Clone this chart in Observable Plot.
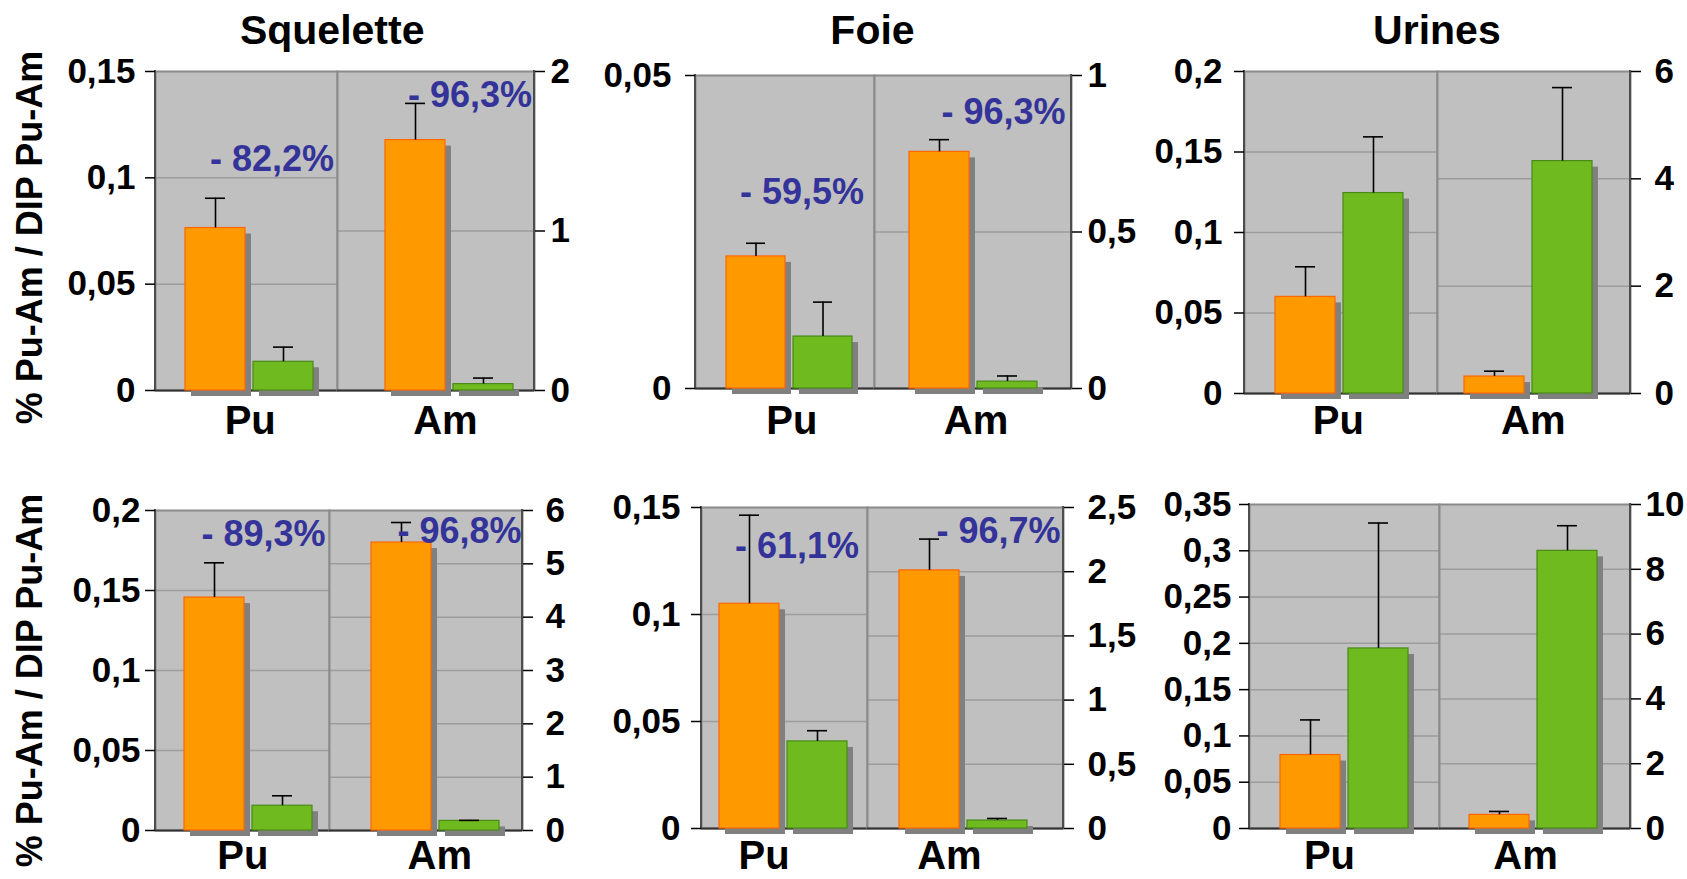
<!DOCTYPE html>
<html>
<head>
<meta charset="utf-8">
<script src="https://cdn.jsdelivr.net/npm/d3@7"></script>
<script src="https://cdn.jsdelivr.net/npm/@observablehq/plot@0.6"></script>
<style>
html, body { margin: 0; padding: 0; background: #ffffff; }
#chart { position: relative; width: 1687px; height: 879px; overflow: hidden; background: #ffffff; }
#chart svg { position: absolute; }
</style>
</head>
<body>
<div id="chart"></div>
<script>
// ---------------- DATA ----------------
const organs = ["Squelette", "Foie", "Urines"];
const elements = ["Pu", "Am"];
const yLabel = "% Pu-Am / DIP Pu-Am";
// panels in reading order (top row, then bottom row); each entry = [Pu, Am]
const orangeValues = [[0.0764, 1.57], [0.0211, 0.756], [0.060, 0.316], [0.1456, 5.40], [0.105, 2.01], [0.0794, 0.42]];
const orangeErrors = [[0.014, 0.23], [0.0021, 0.039], [0.0187, 0.10], [0.0217, 0.375], [0.0414, 0.244], [0.0379, 0.106]];
const greenValues = [[0.0135, 0.04], [0.0083, 0.022], [0.1245, 4.33], [0.0155, 0.18], [0.0407, 0.062], [0.1945, 8.57]];
const greenErrors = [[0.0069, 0.038], [0.0055, 0.018], [0.0349, 1.37], [0.0062, 0.01], [0.005, 0.016], [0.1355, 0.775]];
const percentLabels = [["- 82,2%", "- 96,3%"], ["- 59,5%", "- 96,3%"], [null, null], ["- 89,3%", "- 96,8%"], ["- 61,1%", "- 96,7%"], [null, null]];
const leftTicks = [
  [0, 0.05, 0.1, 0.15],
  [0, 0.05],
  [0, 0.05, 0.1, 0.15, 0.2],
  [0, 0.05, 0.1, 0.15, 0.2],
  [0, 0.05, 0.1, 0.15],
  [0, 0.05, 0.1, 0.15, 0.2, 0.25, 0.3, 0.35]
];
const rightTicks = [
  [0, 1, 2],
  [0, 0.5, 1],
  [0, 2, 4, 6],
  [0, 1, 2, 3, 4, 5, 6],
  [0, 0.5, 1, 1.5, 2, 2.5],
  [0, 2, 4, 6, 8, 10]
];

// ---------------- LAYOUT (pixels on the page) ----------------
const layout = [
  {L: 155, D: 337, R: 534, T: 71, B: 390, s: [30, 48], lx: [249.7, 444.9], pct: [[333.5, 170], [531.5, 106]], padL: 10, padR: 6},
  {L: 695, D: 874, R: 1071, T: 75, B: 388, s: [30.4, 35.3], lx: [791.4, 975.5], pct: [[863.6, 203], [1065, 123]], padL: 14, padR: 6},
  {L: 1244, D: 1437, R: 1630, T: 71, B: 393, s: [30.5, 26.6], lx: [1337.8, 1532.8], pct: [null, null], padL: 12, padR: 14},
  {L: 155, D: 329, R: 522, T: 510, B: 830, s: [29, 42], lx: [242.3, 439.3], pct: [[325, 545], [521, 542]], padL: 5, padR: 13},
  {L: 701, D: 867, R: 1063, T: 507, B: 828, s: [18.3, 31.6], lx: [763.6, 948.9], pct: [[858.6, 557], [1060, 542]], padL: 11, padR: 14},
  {L: 1249, D: 1439, R: 1630, T: 504, B: 828, s: [30.6, 30.2], lx: [1329, 1525], pct: [null, null], padL: 8, padR: 5}
];
const titleX = [331.7, 872, 1436.4];
const titleBaseline = 43;
const xLabelBaseline = [433, 868];
const yLabelPos = {x: 30, y: [237, 680]};
const barWidth = 60, barGap = 8;
const PAGE_H = 879;

const FONT = "'Liberation Sans', Arial, Helvetica, sans-serif";
const fmt = d => String(+(+d).toFixed(4)).replace(".", ",");

function edge(side, stroke, strokeWidth) {
  return (index, scales, values, dims) => {
    const {width, height, marginTop, marginRight, marginBottom, marginLeft} = dims;
    const x = side === "left" ? marginLeft : width - marginRight;
    const line = document.createElementNS("http://www.w3.org/2000/svg", "line");
    line.setAttribute("x1", x); line.setAttribute("x2", x);
    line.setAttribute("y1", marginTop - 1); line.setAttribute("y2", height - marginBottom + 1);
    line.setAttribute("stroke", stroke); line.setAttribute("stroke-width", strokeWidth);
    return line;
  };
}

const chart = document.getElementById("chart");

function half(p, h) {
  const lay = layout[p];
  const row = p < 3 ? 0 : 1, col = p % 3;
  const isPu = h === 0;
  const x0 = isPu ? lay.L : lay.D, x1 = isPu ? lay.D : lay.R;
  const mL = isPu ? 170 : 12, mR = isPu ? 12 : 110, mT = 80;
  const mB = Math.min(60, PAGE_H - lay.B);
  const fw = x1 - x0, fh = lay.B - lay.T;
  const ticks = isPu ? leftTicks[p] : rightTicks[p];
  const max = ticks[ticks.length - 1];
  const data = [
    {s: "a", v: orangeValues[p][h], e: orangeErrors[p][h]},
    {s: "b", v: greenValues[p][h], e: greenErrors[p][h]}
  ];
  const start = mL + lay.s[h];
  const span = 2 * barWidth + barGap;
  const marks = [
    Plot.frame({fill: "#c0c0c0"}),
    Plot.ruleY(ticks.filter(t => t > 0 && t < max), {stroke: "#9c9c9c", strokeWidth: 1.5}),
    Plot.frame({stroke: "#8a8a8a", strokeWidth: 2}),
    edge(isPu ? "left" : "right", "#4d4d4d", 2),
    Plot.ruleY([0], {stroke: "#333333", strokeWidth: 2}),
    Plot.barY(data, {x: "s", y: "v", fill: "#808080", dx: 6, dy: 6}),
    Plot.barY(data.filter(d => d.s === "a"), {x: "s", y: "v", fill: "#ff9900", stroke: "#ff6600", strokeWidth: 1.2}),
    Plot.barY(data.filter(d => d.s === "b"), {x: "s", y: "v", fill: "#6fba1f", stroke: "#4a8a17", strokeWidth: 1.2}),
    Plot.ruleX(data, {x: "s", y1: "v", y2: d => d.v + d.e, stroke: "black", strokeWidth: 1.6}),
    Plot.tickY(data, {x: "s", y: d => d.v + d.e, insetLeft: 20, insetRight: 20, stroke: "black", strokeWidth: 1.6}),
    Plot.axisY(ticks, {
      anchor: isPu ? "left" : "right", tickSize: 10, tickPadding: isPu ? lay.padL : lay.padR,
      tickFormat: fmt, fontSize: 35, fontWeight: "bold", label: null, strokeWidth: 1.5, color: "black"
    }),
    Plot.text([elements[h]], {
      text: d => d, frameAnchor: "bottom", textAnchor: "middle", lineAnchor: "bottom",
      dx: lay.lx[h] - (x0 + x1) / 2, dy: xLabelBaseline[row] - lay.B,
      fontSize: 40, fontWeight: "bold", fill: "black"
    })
  ];
  if (!isPu && row === 0) {
    marks.push(Plot.text([organs[col]], {
      text: d => d, frameAnchor: "top-left", textAnchor: "middle", lineAnchor: "bottom",
      dx: titleX[col] - lay.D, dy: titleBaseline - lay.T, fontSize: 41, fontWeight: "bold", fill: "black"
    }));
  }
  if (isPu && col === 0) {
    marks.push(Plot.text([yLabel], {
      text: d => d, frameAnchor: "left", textAnchor: "middle", lineAnchor: "middle", rotate: -90,
      dx: yLabelPos.x - lay.L, dy: yLabelPos.y[row] - (lay.T + lay.B) / 2,
      fontSize: 36, fontWeight: "bold", fill: "black"
    }));
  }
  const label = percentLabels[p][h];
  if (label && lay.pct[h]) {
    const [px, py] = lay.pct[h];
    marks.push(Plot.text([label], {
      text: d => d, frameAnchor: "top-right", textAnchor: "end", lineAnchor: "bottom",
      dx: px - x1, dy: py - lay.T, fontSize: 36, fontWeight: "bold", fill: "#333399"
    }));
  }
  const svg = Plot.plot({
    width: mL + fw + mR,
    height: mT + fh + mB,
    marginLeft: mL, marginRight: mR, marginTop: mT, marginBottom: mB,
    style: {background: "transparent", overflow: "visible", fontFamily: FONT, color: "black"},
    x: {type: "band", domain: ["a", "b"], range: [start, start + span], paddingInner: barGap / (barWidth + barGap), paddingOuter: 0, axis: null},
    y: {domain: [0, max]},
    marks
  });
  svg.style.left = (x0 - mL) + "px";
  svg.style.top = (lay.T - mT) + "px";
  chart.appendChild(svg);
}

for (let p = 0; p < 6; ++p) { half(p, 0); half(p, 1); }
</script>
</body>
</html>
